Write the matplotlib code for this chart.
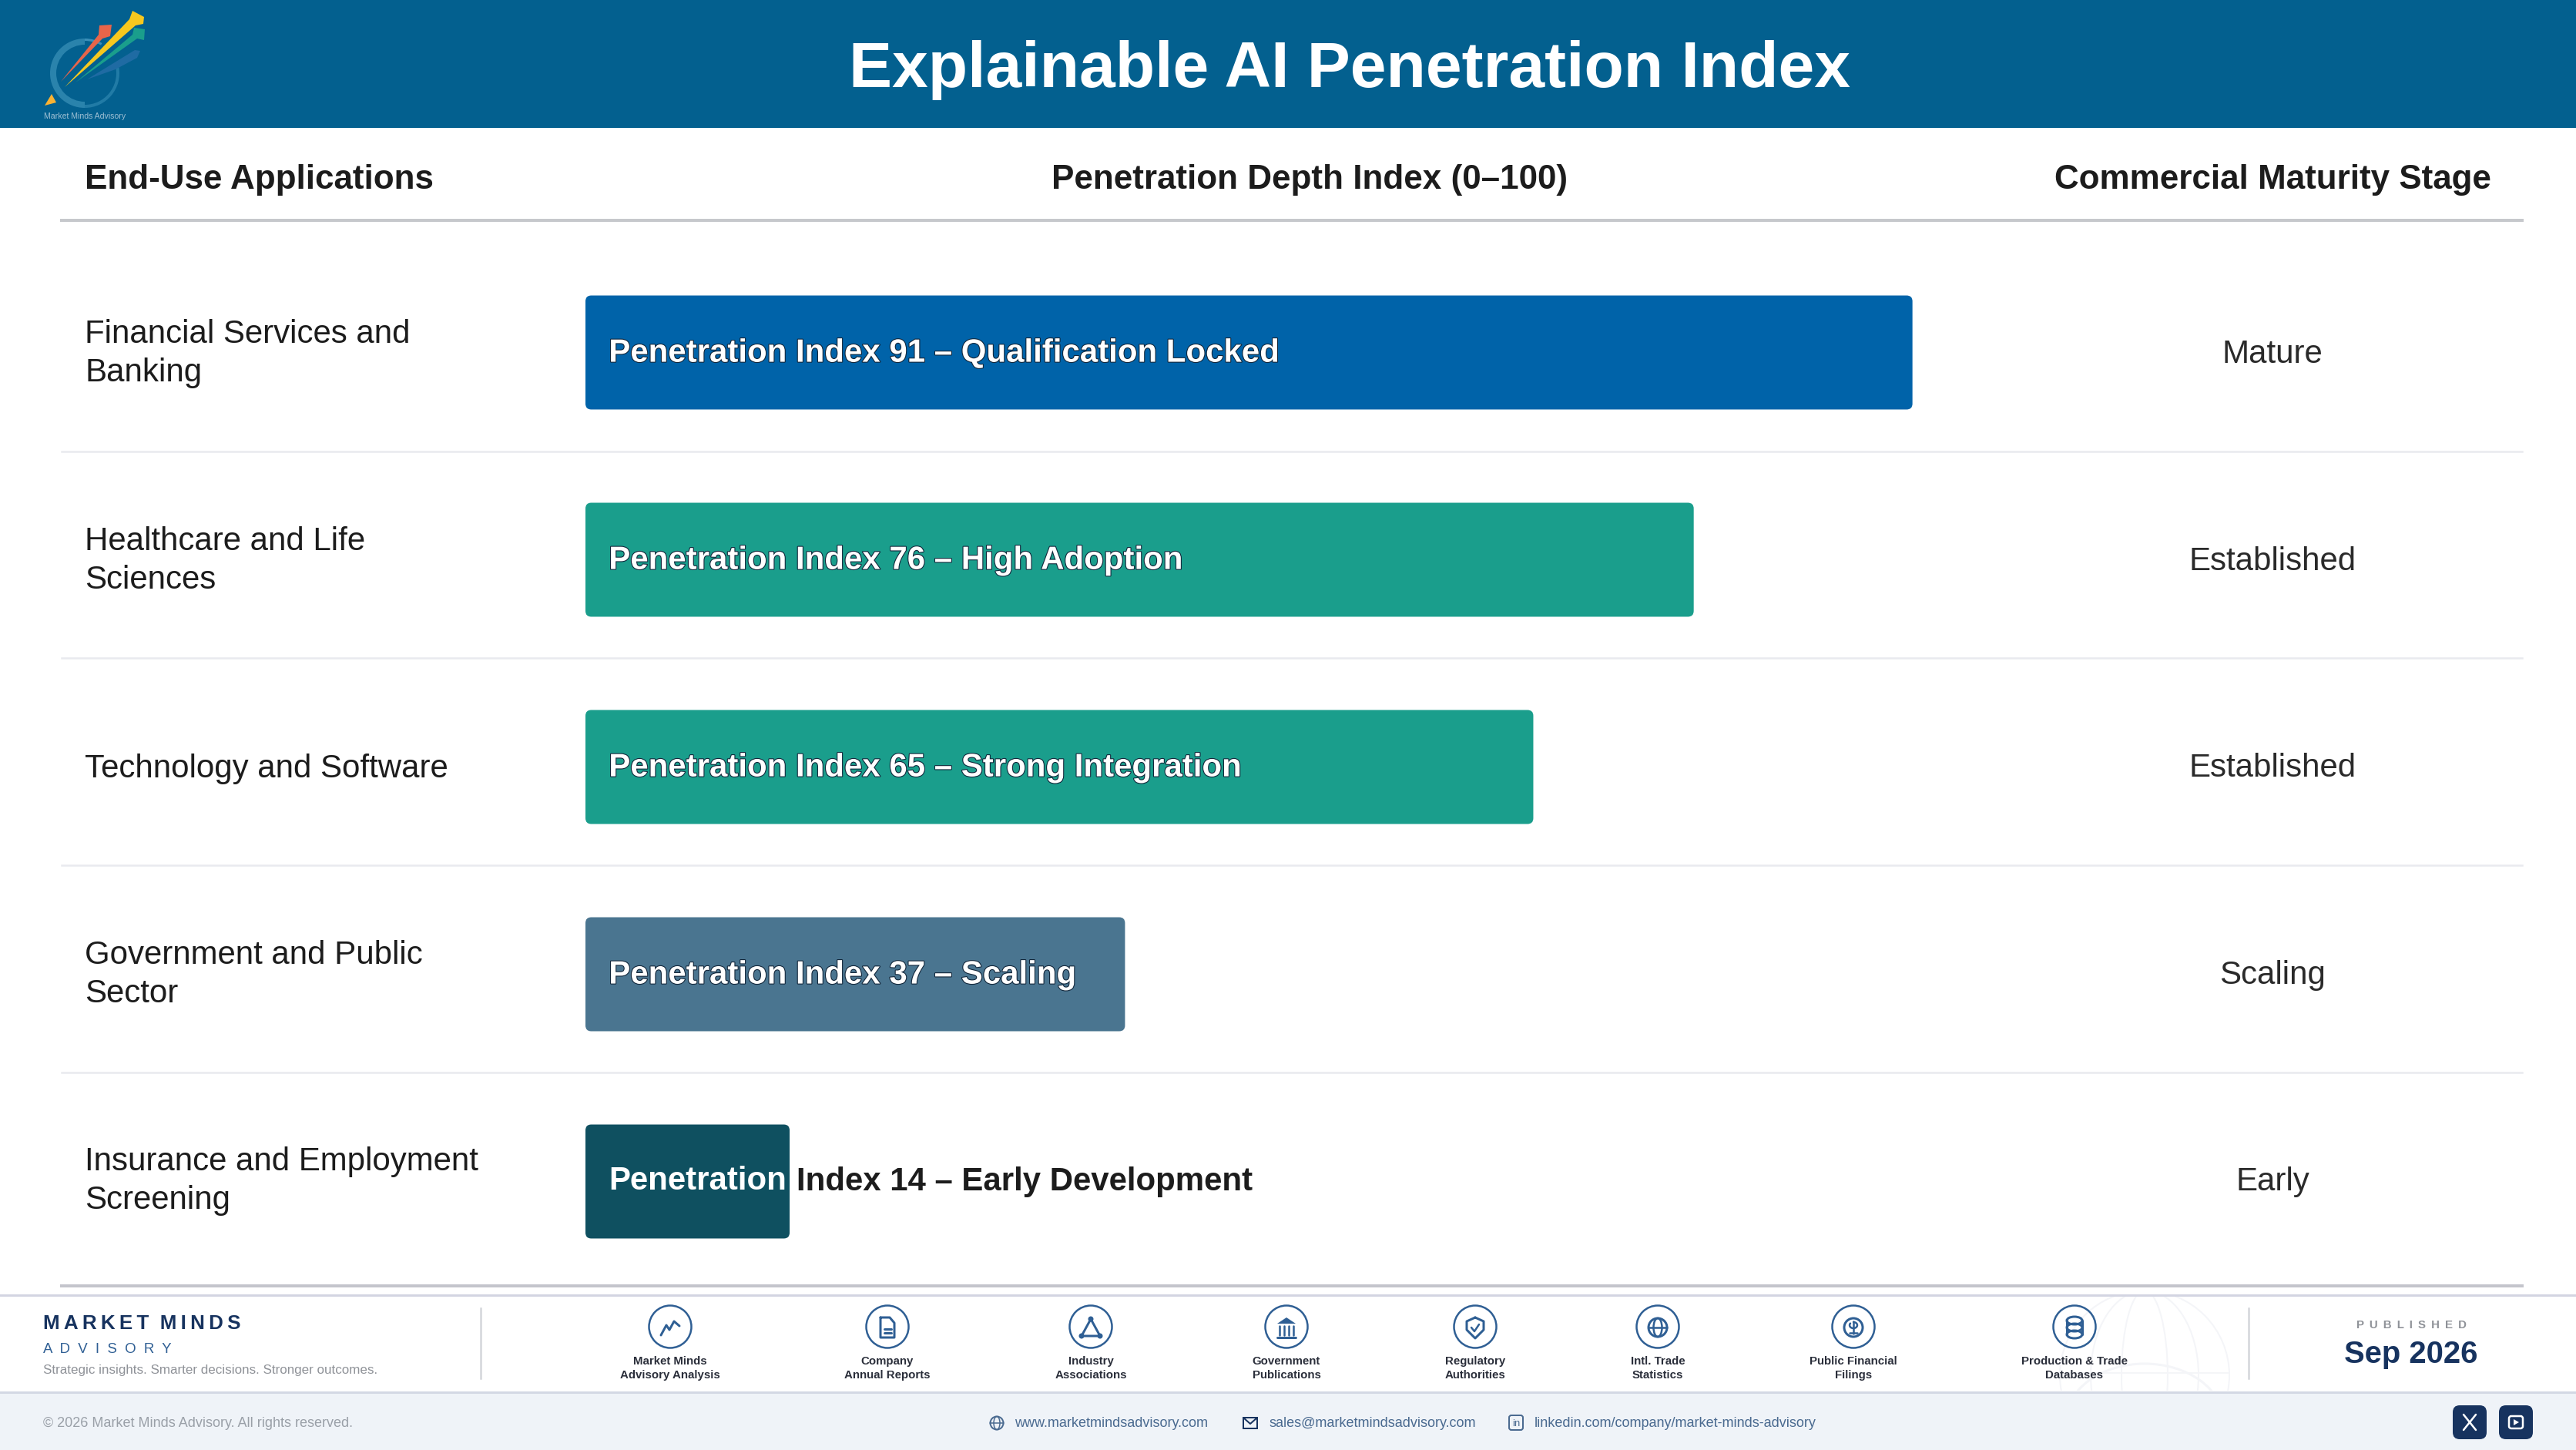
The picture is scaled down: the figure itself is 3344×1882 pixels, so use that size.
import matplotlib

matplotlib.use("Agg")
import matplotlib.patheffects as pe
import matplotlib.pyplot as plt
import numpy as np
from matplotlib.patches import Circle, Ellipse, FancyBboxPatch, Polygon, Rectangle, Wedge

plt.rcParams["font.family"] = ["Liberation Sans", "DejaVu Sans"]

W, H, DPI = 3344, 1882, 200

applications = [
    "Financial Services and\nBanking",
    "Healthcare and Life\nSciences",
    "Technology and Software",
    "Government and Public\nSector",
    "Insurance and Employment\nScreening",
]
index_values = [91, 76, 65, 37, 14]
index_notes = ["Qualification Locked", "High Adoption", "Strong Integration", "Scaling", "Early Development"]
stages = ["Mature", "Established", "Established", "Scaling", "Early"]
bar_colors = ["#0063a9", "#1a9e8c", "#1a9e8c", "#4a7590", "#0f5060"]

source_labels = [
    "Market Minds\nAdvisory Analysis",
    "Company\nAnnual Reports",
    "Industry\nAssociations",
    "Government\nPublications",
    "Regulatory\nAuthorities",
    "Intl. Trade\nStatistics",
    "Public Financial\nFilings",
    "Production & Trade\nDatabases",
]
source_x = [870, 1152, 1416, 1670, 1915, 2152, 2406, 2693]

NAVY = "#17335f"
ICON = "#2f5f94"
DARK = "#1c1c1c"


def fs(px):
    # font size given in image pixels
    return px * 72 / DPI


fig = plt.figure(figsize=(W / DPI, H / DPI), dpi=DPI, facecolor="white")
ax = fig.add_axes([0, 0, 1, 1])
ax.set_xlim(0, W)
ax.set_ylim(H, 0)
ax.axis("off")


def line(xs, ys, color=ICON, lw=3.0, **kw):
    ax.plot(xs, ys, color=color, lw=lw * 72 / DPI, solid_capstyle="round", solid_joinstyle="round", **kw)


# header band
ax.add_patch(Rectangle((0, 0), W, 166, color="#03608f", lw=0))
ax.text(1752, 113, "Explainable AI Penetration Index", color="white", fontsize=fs(84), fontweight="bold", ha="center", va="baseline")

# logo
ax.add_patch(Wedge((110, 95), 45, 90, 270, width=8, color="#2f87b0", lw=0, alpha=0.9))
ax.add_patch(Wedge((110, 95), 45, 350, 90, width=4, color="#2f87b0", lw=0, alpha=0.7))
ax.add_patch(Wedge((110, 95), 45, 270, 300, width=3, color="#4a9cc4", lw=0, alpha=0.8))
ax.add_patch(Polygon([(113, 103), (175, 65), (182, 66), (178, 75), (150, 90)], color="#1f6ba3", lw=0))
ax.add_patch(Polygon([(98, 107), (172, 45), (174, 36), (188, 38), (187, 52), (178, 50)], color="#1a9e8c", lw=0))
ax.add_patch(Polygon([(79, 106), (128, 45), (129, 33), (145, 32), (143, 47), (133, 50)], color="#e8654a", lw=0))
ax.add_patch(Polygon([(84, 113), (168, 25), (172, 14), (187, 22), (186, 31), (176, 33)], color="#f7c81e", lw=0))
ax.add_patch(Polygon([(67, 122), (58, 137), (73, 133)], color="#f9b233", lw=0))
ax.text(110, 151, "Market Minds Advisory", color="#9fc0d4", fontsize=fs(10.5), ha="center", va="center")

# column headers
ax.text(110, 245, "End-Use Applications", color=DARK, fontsize=fs(44), fontweight="bold", va="baseline")
ax.text(1700, 245, "Penetration Depth Index (0–100)", color=DARK, fontsize=fs(44), fontweight="bold", ha="center", va="baseline")
ax.text(2950, 245, "Commercial Maturity Stage", color=DARK, fontsize=fs(44), fontweight="bold", ha="center", va="baseline")
ax.plot([80, 3274], [286, 286], color="#c6c8cc", lw=4 * 72 / DPI)

# table rows
row_y = [457, 726, 994, 1263, 1531]
for y_sep in [586, 854, 1123, 1392]:
    ax.plot([80, 3274], [y_sep, y_sep], color="#e9eaef", lw=2.5 * 72 / DPI)
ax.plot([80, 3274], [1669, 1669], color="#c4c5cc", lw=4 * 72 / DPI)

for y, app, stage in zip(row_y, applications, stages):
    nudge = 2 if "\n" in app else 4
    ax.text(110, y + nudge, app, color=DARK, fontsize=fs(42), va="center", linespacing=1.34)
    ax.text(2950, y + 3, stage, color="#2a2a2a", fontsize=fs(42), ha="center", va="center")

# bars get their own axes, 0-100 across and one unit per row
ax_bar = fig.add_axes([760 / W, 1 - (323 + 5 * 269) / H, 1893 / W, 5 * 269 / H])
ax_bar.set_xlim(0, 100)
ax_bar.set_ylim(4.5, -0.5)
ax_bar.axis("off")
ax_bar.patch.set_alpha(0)

BAR_H = 0.55
edge = [pe.withStroke(linewidth=2.2 * 72 / DPI, foreground="#12263a")]
for i, (val, note, col) in enumerate(zip(index_values, index_notes, bar_colors)):
    ax_bar.add_patch(
        FancyBboxPatch(
            (0, i - BAR_H / 2),
            val,
            BAR_H,
            boxstyle="round,pad=0,rounding_size=0.4",
            mutation_aspect=18.93 / 269,
            facecolor=col,
            edgecolor="none",
        )
    )
    label = f"Penetration Index {val} – {note}"
    if val < 20:
        # label does not fit, only the first word sits on the bar
        first, rest = label.split(" ", 1)
        ax_bar.text(1.6, i, first, color="white", fontsize=fs(42), fontweight="bold", va="center")
        ax_bar.text(14.45, i, rest, color=DARK, fontsize=fs(42), fontweight="bold", va="center")
    else:
        ax_bar.text(1.6, i + 0.004, label, color="white", fontsize=fs(42), fontweight="bold", va="center", path_effects=edge)

# footer
ax.add_patch(Rectangle((0, 1807), W, H - 1807, color="#eff3f8", lw=0))
ax.plot([0, W], [1681, 1681], color="#d3d5e2", lw=3 * 72 / DPI)
ax.plot([0, W], [1807, 1807], color="#d3d8e4", lw=3 * 72 / DPI)

# faint globe behind the last source
clip = Rectangle((2500, 1683), 500, 122, transform=ax.transData)
for w_g, h_g in [(220, 220), (140, 220), (60, 220)]:
    e = Ellipse((2784, 1785), w_g, h_g, fill=False, ec="#f4f5f8", lw=2 * 72 / DPI)
    ax.add_patch(e)
    e.set_clip_path(clip)
e = Ellipse((2784, 1845), 205, 150, fill=False, ec="#f4f5f8", lw=3 * 72 / DPI)
ax.add_patch(e)
e.set_clip_path(clip)
ax.plot([2675, 2893], [1782, 1782], color="#f4f5f8", lw=2 * 72 / DPI)

ax.text(56, 1718, "\u2009".join("MARKET") + "  " + "\u2009".join("MINDS"), color=NAVY, fontsize=fs(26), fontweight="bold", va="center")
ax.text(56, 1751, "  ".join("ADVISORY"), color="#2f5f94", fontsize=fs(18.7), va="center")
ax.text(56, 1778, "Strategic insights. Smarter decisions. Stronger outcomes.", color="#8f9298", fontsize=fs(17), va="center")
ax.plot([624, 624], [1698, 1789], color="#d4d6da", lw=2.5 * 72 / DPI)
ax.plot([2919, 2919], [1698, 1789], color="#d4d6da", lw=2.5 * 72 / DPI)
ax.text(3130, 1720, " \u2009".join("PUBLISHED"), color="#8f9298", fontsize=fs(15), fontweight="bold", ha="center", va="center")
ax.text(3130, 1758, "Sep 2026", color=NAVY, fontsize=fs(40), fontweight="bold", ha="center", va="center")


def ic_chart(x, y):
    line([x - 12, x - 5, x - 1, x + 5, x + 12], [y + 10, y - 3, y + 3, y - 8, y - 2])


def ic_doc(x, y):
    line([x - 9, x + 3, x + 9, x + 9, x - 9, x - 9], [y - 13, y - 13, y - 6, y + 13, y + 13, y - 13])
    line([x - 4, x + 5], [y + 2, y + 2])
    line([x - 4, x + 5], [y + 7, y + 7])


def ic_triangle(x, y):
    line([x, x - 12, x + 12, x], [y - 11, y + 11, y + 11, y - 11])
    for px, py in [(x, y - 11), (x - 12, y + 11), (x + 12, y + 11)]:
        ax.add_patch(Circle((px, py), 3.5, color=ICON, lw=0))


def ic_bank(x, y):
    ax.add_patch(Polygon([(x - 12, y - 5), (x, y - 13), (x + 12, y - 5)], color=ICON, lw=0))
    for dx in [-9, -3, 3, 9]:
        line([x + dx, x + dx], [y - 2, y + 10], lw=2.5)
    line([x - 12, x + 12], [y + 13, y + 13])


def ic_shield(x, y):
    line([x, x + 11, x + 11, x, x - 11, x - 11, x], [y - 13, y - 8, y + 3, y + 14, y + 3, y - 8, y - 13])
    line([x - 5, x - 1, x + 5], [y, y + 5, y - 4], lw=2.5)


def ic_globe(x, y):
    ax.add_patch(Circle((x, y), 12, fill=False, ec=ICON, lw=3 * 72 / DPI))
    ax.add_patch(Ellipse((x, y), 11, 24, fill=False, ec=ICON, lw=2.5 * 72 / DPI))
    line([x - 12, x + 12], [y, y], lw=2.5)


def ic_coin(x, y):
    ax.add_patch(Circle((x, y), 12, fill=False, ec=ICON, lw=3 * 72 / DPI))
    t = np.linspace(-0.5 * np.pi, 1.2 * np.pi, 20)
    line(x + 5 * np.cos(t), y - 3 + 4 * np.sin(t), lw=2.5)
    line([x - 5, x + 5], [y + 7, y + 7], lw=2.5)
    line([x, x], [y - 8, y + 8], lw=2.5)


def ic_db(x, y):
    for dy in [-9, 0, 9]:
        ax.add_patch(Ellipse((x, y + dy), 20, 10, fill=False, ec=ICON, lw=3 * 72 / DPI))
    line([x - 10, x - 10], [y - 9, y + 9])
    line([x + 10, x + 10], [y - 9, y + 9])


icon_fns = [ic_chart, ic_doc, ic_triangle, ic_bank, ic_shield, ic_globe, ic_coin, ic_db]
for x, lab, fn in zip(source_x, source_labels, icon_fns):
    ax.add_patch(Circle((x, 1722), 27.5, fill=False, ec=ICON, lw=2.5 * 72 / DPI))
    fn(x, 1723)
    ax.text(x, 1776, lab, color="#2a2e3a", fontsize=fs(15), fontweight="bold", ha="center", va="center", linespacing=1.3)

# bottom strip
ax.text(56, 1847, "© 2026 Market Minds Advisory. All rights reserved.", color="#9aa0a8", fontsize=fs(18), va="center")
contact = "#4a6a90"
ax.text(1317, 1847, "www.marketmindsadvisory.com", color=contact, fontsize=fs(18), va="center")
ax.text(1647, 1847, "sales@marketmindsadvisory.com", color=contact, fontsize=fs(18), va="center")
ax.text(1992, 1847, "linkedin.com/company/market-minds-advisory", color=contact, fontsize=fs(18), va="center")

ax.add_patch(Circle((1294, 1847), 8.5, fill=False, ec=contact, lw=2 * 72 / DPI))
ax.add_patch(Ellipse((1294, 1847), 8, 17, fill=False, ec=contact, lw=1.5 * 72 / DPI))
line([1285, 1303], [1847, 1847], color=contact, lw=1.5)
ax.add_patch(Rectangle((1614, 1840), 18, 14, fill=False, ec=NAVY, lw=2 * 72 / DPI))
line([1614, 1623, 1632], [1840, 1848, 1840], color=NAVY, lw=2)
ax.add_patch(FancyBboxPatch((1959, 1837), 18, 19, boxstyle="round,pad=0,rounding_size=3", fill=False, ec=contact, lw=2 * 72 / DPI))
ax.text(1968, 1848, "in", color=contact, fontsize=fs(13), ha="center", va="center")

for x0 in [3184, 3244]:
    ax.add_patch(FancyBboxPatch((x0, 1824), 44, 44, boxstyle="round,pad=0,rounding_size=9", facecolor=NAVY, edgecolor="none"))
line([3198, 3214], [1836, 1856], color="white", lw=2.5)
line([3214, 3198], [1836, 1856], color="white", lw=2.5)
ax.add_patch(FancyBboxPatch((3257, 1838), 18, 16, boxstyle="round,pad=0,rounding_size=3", fill=False, ec="white", lw=2.5 * 72 / DPI))
ax.add_patch(Polygon([(3263, 1842), (3263, 1850), (3270, 1846)], color="white", lw=0))

fig.savefig("out.png", dpi=DPI)
plt.close(fig)
